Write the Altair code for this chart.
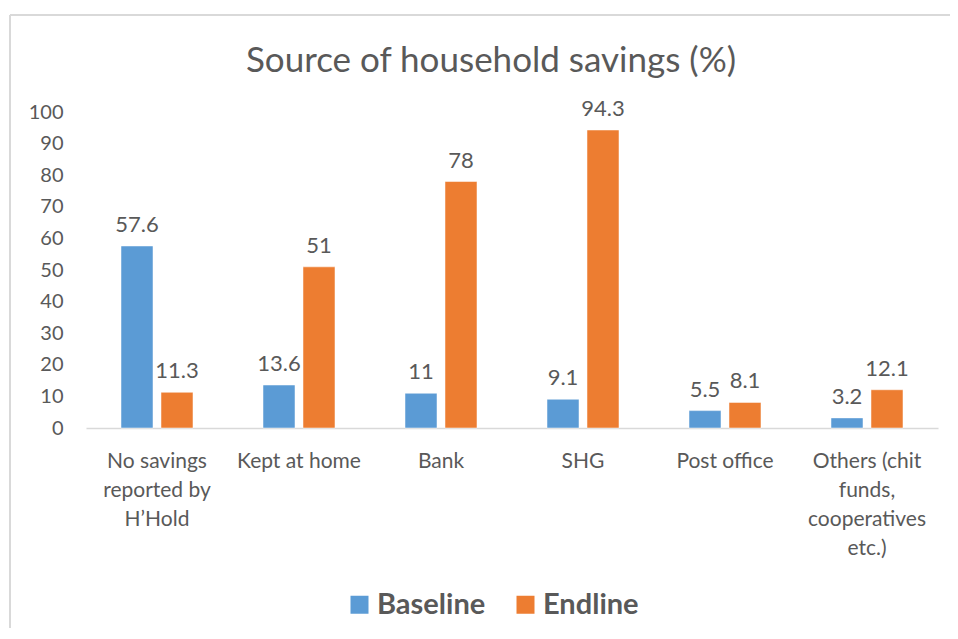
import altair as alt
import pandas as pd

categories = ["No savings reported by H’Hold", "Kept at home", "Bank", "SHG",
              "Post office", "Others (chit funds, cooperatives etc.)"]
label_lines = [["No savings", "reported by", "H’Hold"], ["Kept at home"], ["Bank"], ["SHG"],
               ["Post office"], ["Others (chit", "funds,", "cooperatives", "etc.)"]]
baseline = [57.6, 13.6, 11, 9.1, 5.5, 3.2]
endline = [11.3, 51, 78, 94.3, 8.1, 12.1]
series = ["Baseline", "Endline"]
colors = ["#5B9BD5", "#ED7D31"]
title_text = "Source of household savings (%)"

rows = []
for c, b, e in zip(categories, baseline, endline):
    rows.append({"cat": c, "series": "Baseline", "value": b})
    rows.append({"cat": c, "series": "Endline", "value": e})
df = pd.DataFrame(rows)

label_map = "{" + ",".join(
    "'" + c + "': [" + ",".join("'" + l + "'" for l in ls) + "]" for c, ls in zip(categories, label_lines)
) + "}"
label_expr = label_map + "[datum.label]"

FONT = "Lato"
GRAY = "#595959"

x = alt.X("cat:N", sort=categories, title=None,
          scale=alt.Scale(paddingInner=0.493, paddingOuter=0.2465),
          axis=alt.Axis(labelAngle=0, ticks=False, domainColor="#D9D9D9", domainWidth=1.5,
                        labelFont=FONT, labelFontSize=21, labelColor=GRAY, labelPadding=22,
                        labelLineHeight=29, labelExpr=label_expr, labelBaseline="top"))
xo = alt.XOffset("series:N", sort=series, scale=alt.Scale(paddingInner=0.2, paddingOuter=0))
y = alt.Y("value:Q", title=None, scale=alt.Scale(domain=[0, 100], nice=False),
          axis=alt.Axis(values=list(range(0, 101, 10)), grid=False, domain=False, ticks=False,
                        labelFont=FONT, labelFontSize=20, labelColor=GRAY, labelPadding=23))

bars = alt.Chart(df).mark_bar(stroke="white", strokeWidth=0.5).encode(
    x=x, xOffset=xo, y=y,
    color=alt.Color("series:N", sort=series, scale=alt.Scale(domain=series, range=colors),
                    legend=alt.Legend(title=None, orient="none", direction="horizontal",
                                      legendX=259, legendY=478, symbolType="square", symbolSize=324,
                                      symbolStrokeWidth=0, labelFont=FONT, labelFontSize=29,
                                      labelFontWeight="bold", labelColor=GRAY, columnPadding=25,
                                      labelOffset=3)),
)
text = alt.Chart(df).mark_text(baseline="bottom", dy=-9, font=FONT, fontSize=22, color=GRAY).encode(
    x=x, xOffset=xo, y=y, text=alt.Text("value:Q", format="~r"),
)

title = alt.Chart(pd.DataFrame({"t": [title_text]})).mark_text(
    font=FONT, fontSize=35, color=GRAY, align="center", baseline="alphabetic"
).encode(text="t:N", x=alt.value(405), y=alt.value(-40))

border_top = alt.Chart(pd.DataFrame({"a": [0]})).mark_rule(color="#D9D9D9", strokeWidth=2).encode(
    x=alt.value(-76), x2=alt.value(900), y=alt.value(-97))
border_left = alt.Chart(pd.DataFrame({"a": [0]})).mark_rule(color="#D9D9D9", strokeWidth=2).encode(
    x=alt.value(-76), y=alt.value(-97), y2=alt.value(530))

chart = alt.layer(border_top, border_left, title, bars, text).properties(
    width=852, height=316,
    padding={"left": 78, "top": 104, "right": 12, "bottom": 200},
    autosize=alt.AutoSizeParams(type="none"),
).configure_view(stroke=None)

chart.save("out.html", embed_options={"renderer": "svg", "actions": False})
